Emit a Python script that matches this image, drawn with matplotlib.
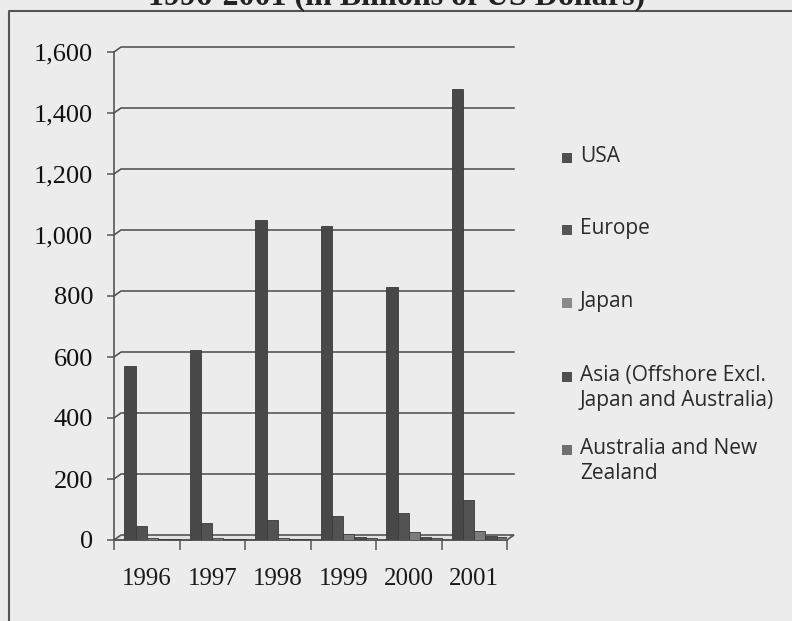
import matplotlib
matplotlib.use("Agg")
import matplotlib.pyplot as plt
from matplotlib.patches import Rectangle, Polygon
from matplotlib.lines import Line2D
import matplotlib.transforms as mtransforms
import numpy as np

# ---- data (billions of US dollars) ----
years = ["1996", "1997", "1998", "1999", "2000", "2001"]
series_names = ["USA", "Europe", "Japan",
                "Asia (Offshore Excl.\nJapan and Australia)",
                "Australia and New\nZealand"]
usa = [572, 622, 1050, 1030, 830, 1478]
europe = [45, 55, 64, 80, 88, 130]
japan = [5, 5, 5, 20, 26, 31]
asia = [4, 4, 4, 9, 10, 14]
aus_nz = [3, 3, 3, 6, 7, 11]
y_ticks = [0, 200, 400, 600, 800, 1000, 1200, 1400, 1600]
y_tick_labels = ["0", "200", "400", "600", "800", "1,000", "1,200", "1,400", "1,600"]

series_values = [usa, europe, japan, asia, aus_nz]
bar_colors = ["#484848", "#525252", "#7c7c7c", "#4c4c4c", "#6a6a6a"]
legend_colors = ["#4f4f4f", "#555555", "#8a8a8a", "#505050", "#707070"]

W, H, DPI = 792, 621, 100
fig = plt.figure(figsize=(W / DPI, H / DPI), dpi=DPI)
bg = "#ececec"
fig.patch.set_facecolor(bg)

# front plane of the 3-D style plot area (pixel geometry)
x0_px, x1_px = 114, 507
y0_px, y1_px = 540, 52
ax = fig.add_axes([x0_px / W, 1 - y0_px / H,
                   (x1_px - x0_px) / W, (y0_px - y1_px) / H])
ax.set_facecolor("none")
ax.set_xlim(0, len(years))
ax.set_ylim(0, 1600)
for sp in ax.spines.values():
    sp.set_visible(False)

# back wall is shifted up-right of the front plane
back = mtransforms.offset_copy(ax.transData, fig=fig, x=7, y=5, units="dots")
inv = ax.transData.inverted()
grid_color = "#4a4a4a"
n = len(years)
for v in y_ticks[1:]:
    # short diagonal from the axis to the back wall, then across the wall
    pts = inv.transform(np.array([ax.transData.transform((0, v)),
                                  back.transform((0, v)),
                                  back.transform((n, v))]))
    ax.add_line(Line2D(pts[:, 0], pts[:, 1], color=grid_color, lw=1.1,
                       clip_on=False, zorder=1))

# floor
fl = inv.transform(np.array([ax.transData.transform((0, 0)),
                             ax.transData.transform((n, 0)),
                             back.transform((n, 0)),
                             back.transform((0, 0))]))
ax.add_patch(Polygon(fl, closed=True, facecolor="#e2e2e2", edgecolor="#555555",
                     lw=1.2, clip_on=False, zorder=1))

# y axis line
ax.add_line(Line2D([0, 0], [0, 1600], color="#555555", lw=1.2,
                   clip_on=False, zorder=2))

# bars
bar_w = 0.17
start = 0.16
x = np.arange(n)
for i, (vals, col) in enumerate(zip(series_values, bar_colors)):
    ax.bar(x + start + i * bar_w, vals, width=bar_w, align="edge",
           color=col, edgecolor="#3a3a3a", linewidth=0.6, zorder=3 + i)

# ticks and labels
ax.set_yticks(y_ticks)
ax.set_yticklabels(y_tick_labels, fontfamily="Liberation Serif",
                   fontsize=19, color="#111111")
ax.tick_params(axis="y", length=5, width=1.1, color="#555555", pad=10,
               direction="out")
ax.set_xticks(np.arange(n + 1))
ax.set_xticklabels([""] * (n + 1))
ax.tick_params(axis="x", length=7, width=1.1, color="#555555", direction="out")
ax.set_xticks(x + 0.5, minor=True)
ax.set_xticklabels(years, minor=True, fontfamily="Liberation Serif",
                   fontsize=18, color="#1a1a1a")
ax.tick_params(axis="x", which="minor", length=0, pad=20)
ax.spines["bottom"].set_visible(True)
ax.spines["bottom"].set_color("#555555")
ax.spines["bottom"].set_linewidth(1.2)

# legend, placed by hand
leg_y = [158, 230, 303, 377, 450]
for name, col, yy in zip(series_names, legend_colors, leg_y):
    fig.patches.append(Rectangle((562 / W, 1 - (yy + 5) / H), 10 / W, 10 / H,
                                 transform=fig.transFigure, facecolor=col,
                                 edgecolor="none"))
    fig.text(580 / W, 1 - (yy - 12) / H, name, fontfamily="Open Sans",
             fontsize=15, color="#2a2a2a", va="top", ha="left",
             linespacing=1.25, transform=fig.transFigure)

# chart frame
fig.add_artist(Line2D([9 / W, 9 / W, 1.0], [0.0, 1 - 11 / H, 1 - 11 / H],
                      transform=fig.transFigure, color="#555555", lw=1.5))

# title (its upper part falls outside the figure)
fig.text(397 / W, 1 - 4 / H, "1996-2001 (in Billions of US Dollars)",
         fontfamily="Liberation Serif", fontweight="bold", fontsize=23,
         ha="center", va="baseline", color="#222222")

fig.savefig("out.png", dpi=DPI, facecolor=bg)
